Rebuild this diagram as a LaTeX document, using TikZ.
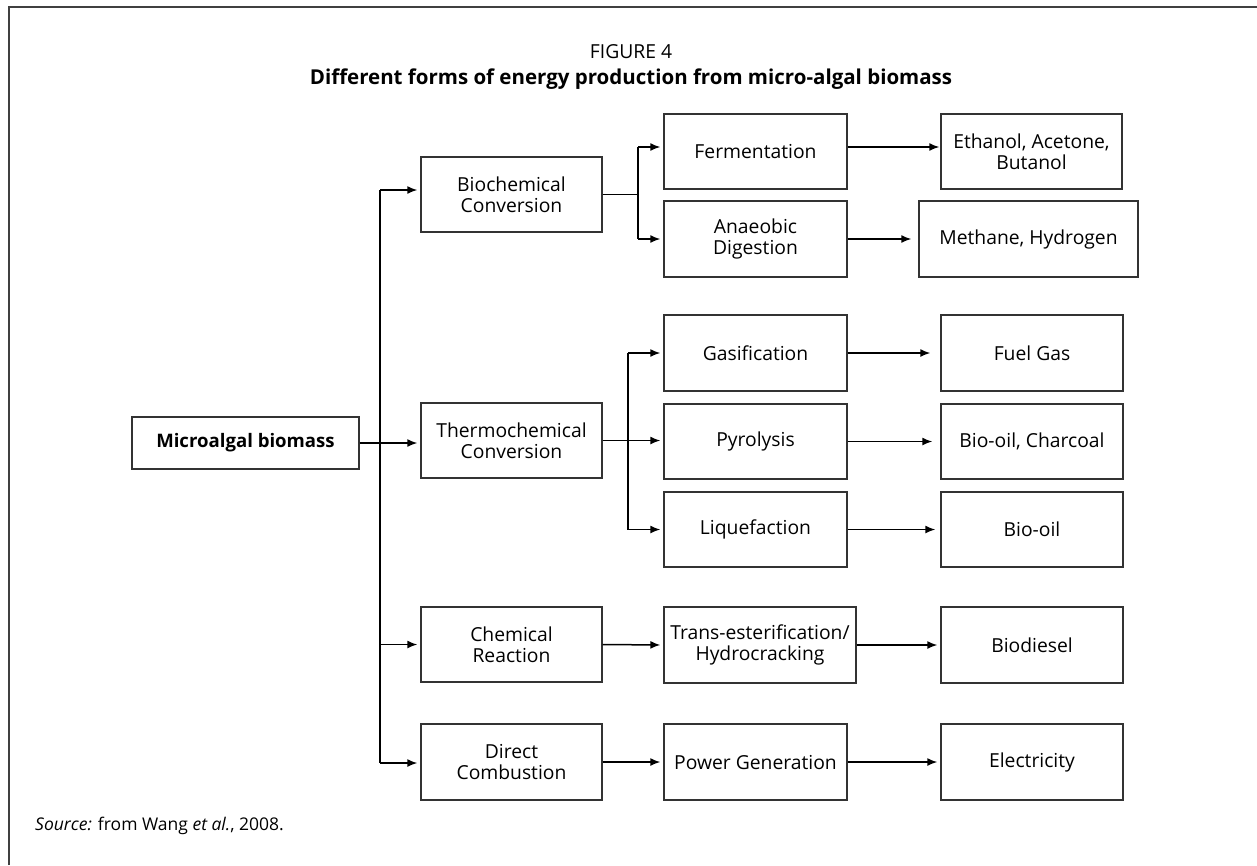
\documentclass[tikz,border=0pt]{standalone}
\usepackage{fontspec}
\setmainfont{Open Sans}
\usetikzlibrary{arrows.meta}
\begin{document}
\begin{tikzpicture}[x=1pt,y=-1pt,
  box/.style={draw=black!80, line width=1.4pt, align=center, inner sep=0pt,
    font=\fontsize{19.3}{21}\selectfont, text=black},
  conn/.style={line width=1.5pt, black},
  arr/.style={conn, -{Latex[length=10pt,width=8pt]}, shorten >=3pt},
  frame/.style={line width=2pt, black!75}]
\useasboundingbox (0,0) rectangle (1257,865);
\draw[frame] (9,865) -- (9,7) -- (1257,7);
\node[font=\fontsize{19.3}{21}\selectfont] (fig) at (631,52) {FIGURE 4};
\node[font=\fontsize{20.5}{22}\selectfont\bfseries] (ttl) at (631,79) {Different forms of energy production from micro-algal biomass};
\node[box, minimum width=227, minimum height=52, font=\fontsize{18.6}{20}\selectfont\bfseries] (bio) at (245.5,443) {Microalgal biomass};
\node[box, minimum width=181, minimum height=75] (bc) at (511.5,194.5) {Biochemical\\Conversion};
\node[box, minimum width=181, minimum height=75] (tc) at (511.5,440.5) {Thermochemical\\Conversion};
\node[box, minimum width=181, minimum height=75] (cr) at (511.5,644.5) {Chemical\\Reaction};
\node[box, minimum width=181, minimum height=76] (dc) at (511.5,762) {Direct\\Combustion};
\node[box, minimum width=183, minimum height=75] (fe) at (755.5,151.5) {Fermentation};
\node[box, minimum width=183, minimum height=76] (ad) at (755.5,239) {Anaeobic\\Digestion};
\node[box, minimum width=183, minimum height=76] (ga) at (755.5,353) {Gasification};
\node[box, minimum width=183, minimum height=75] (py) at (755.5,441.5) {Pyrolysis};
\node[box, minimum width=183, minimum height=75] (li) at (755.5,529.5) {Liquefaction};
\node[box, minimum width=192, minimum height=76] (te) at (760,645) {Trans-esterification/\\Hydrocracking};
\node[box, minimum width=183, minimum height=76] (pg) at (755.5,762) {Power Generation};
\node[box, minimum width=181, minimum height=75] (et) at (1031.5,151.5) {Ethanol, Acetone,\\Butanol};
\node[box, minimum width=219, minimum height=76] (me) at (1028.5,239) {Methane, Hydrogen};
\node[box, minimum width=182, minimum height=76] (fg) at (1032,353) {Fuel Gas};
\node[box, minimum width=182, minimum height=75] (bo) at (1032,441.5) {Bio-oil, Charcoal};
\node[box, minimum width=182, minimum height=75] (bl) at (1032,529.5) {Bio-oil};
\node[box, minimum width=182, minimum height=76] (bd) at (1032,645) {Biodiesel};
\node[box, minimum width=182, minimum height=76] (el) at (1032,762) {Electricity};
\node[anchor=west, inner sep=0pt, font=\fontsize{17.5}{20}\selectfont] (src) at (35,826) {\textit{Source:} from Wang \textit{et al.}, 2008.};
% trunk
\coordinate (trtop) at (380,190);
\coordinate (trbot) at (380,763);
\draw[conn] (trtop) -- (trbot);
\draw[arr] (trtop) -- (trtop -| bc.west);
\draw[arr] (bio.east) -- (bio.east -| tc.west);
\draw[arr] (trtop |- cr.west) -- (cr.west);
\draw[arr] (trbot) -- (trbot -| dc.west);
% biochemical branch
\coordinate (bj) at (638,194.5);
\coordinate (bt) at (638,147);
\coordinate (bb) at (638,239);
\draw[conn] (bc.east) -- (bj);
\draw[conn] (bt) -- (bb);
\draw[arr] (bt) -- (bt -| fe.west);
\draw[arr] (bb) -- (ad.west);
\draw[arr, shorten >=1pt] (fe.east |- bt) -- (et.west |- bt);
\draw[arr, shorten >=7pt] (ad.east) -- (me.west);
% thermochemical branch
\coordinate (tt) at (628,353);
\coordinate (tb) at (628,529.5);
\draw[conn] (tt) -- (tb);
\draw[arr] (tc.east) -- (tc.east -| py.west);
\draw[arr] (tt) -- (ga.west);
\draw[arr] (tb) -- (li.west);
\draw[arr, shorten >=10pt] (ga.east) -- (fg.west);
\draw[arr, shorten >=8pt] (py.east) -- (bo.west);
\draw[arr, shorten >=5pt] (li.east) -- (bl.west);
% chemical & combustion
\draw[arr] (cr.east) -- (te.west);
\draw[arr] (te.east) -- (bd.west);
\draw[arr] (dc.east) -- (pg.west);
\draw[arr] (pg.east) -- (el.west);
\end{tikzpicture}
\end{document}
